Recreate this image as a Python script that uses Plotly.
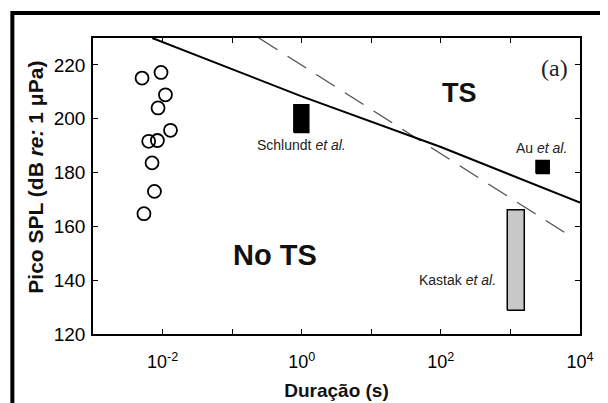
import numpy as np
import plotly.graph_objects as go

# ---- data ----
circle_dur = [0.00507, 0.0095, 0.0110, 0.00861, 0.0130, 0.00632, 0.00843, 0.00706, 0.00764, 0.0054]
circle_spl = [215.1, 217.2, 208.9, 204.0, 195.7, 191.6, 191.9, 183.6, 173.0, 164.7]

solid_dur = [0.0071, 1.0, 100.0, 10000.0]
solid_spl = [230.0, 208.3, 189.5, 168.8]

dashed_dur = [0.242, 6030.0]
dashed_spl = [230.0, 157.7]

schlundt_dur = [0.771, 1.265]
schlundt_spl = [194.9, 205.2]
au_dur = [2330.0, 3610.0]
au_spl = [179.6, 184.5]
kastak_dur = [900.0, 1581.0]
kastak_spl = [128.8, 166.2]

label_text = ["Schlundt <i>et al.</i>", "Au <i>et al.</i>", "Kastak <i>et al.</i>"]
label_dur = [1.0, 2810.0, 173.0]
label_spl = [190.4, 189.1, 139.9]

region_text = ["TS", "No TS"]
region_dur = [185.0, 0.414]
region_spl = [209.6, 149.5]
region_size = [27, 29]

x_tickvals = [1e-2, 1e-1, 1e0, 1e1, 1e2, 1e3, 1e4]
x_ticktext = ["10<sup>-2</sup>", "", "10<sup>0</sup>", "", "10<sup>2</sup>", "", "10<sup>4</sup>"]
y_tickvals = [120, 140, 160, 180, 200, 220]

x_title = "Duração (s)"
y_title = "Pico SPL (dB <i>re:</i> 1 μPa)"

FONT = "Liberation Sans, Arial, Helvetica, sans-serif"

fig = go.Figure()


def rect(xs, ys, fill):
    x0, x1 = xs
    y0, y1 = ys
    return go.Scatter(
        x=[x0, x1, x1, x0, x0], y=[y0, y0, y1, y1, y0],
        mode="lines", fill="toself", fillcolor=fill,
        line=dict(color="black", width=1.5), showlegend=False, hoverinfo="skip")


fig.add_trace(go.Scatter(x=dashed_dur, y=dashed_spl, mode="lines",
                         line=dict(color="#505050", width=1.3, dash="22px,12px"),
                         showlegend=False))
fig.add_trace(go.Scatter(x=solid_dur, y=solid_spl, mode="lines",
                         line=dict(color="black", width=2), showlegend=False))
fig.add_trace(go.Scatter(x=circle_dur, y=circle_spl, mode="markers",
                         marker=dict(symbol="circle-open", size=13,
                                     color="black", line=dict(width=1.8, color="black")),
                         showlegend=False))
fig.add_trace(rect(schlundt_dur, schlundt_spl, "black"))
fig.add_trace(rect(au_dur, au_spl, "black"))
fig.add_trace(rect(kastak_dur, kastak_spl, "#c8c8c8"))

annotations = []
for t, xd, yd in zip(label_text, label_dur, label_spl):
    annotations.append(dict(x=np.log10(xd), y=yd, xref="x", yref="y", text=t,
                            showarrow=False, font=dict(family=FONT, size=14, color="#222")))
for t, xd, yd, s in zip(region_text, region_dur, region_spl, region_size):
    annotations.append(dict(x=np.log10(xd), y=yd, xref="x", yref="y", text="<b>" + t + "</b>",
                            showarrow=False, font=dict(family=FONT, size=s, color="#111")))
annotations.append(dict(x=np.log10(4240.0), y=218.9, xref="x", yref="y", text="(a)",
                        showarrow=False,
                        font=dict(family="Liberation Serif, Times New Roman, serif", size=24, color="#222")))
# y axis title, placed as in the reference (slightly above the plot centre)
annotations.append(dict(x=-0.118, y=0.53, xref="paper", yref="paper", text="<b>" + y_title + "</b>",
                        textangle=-90, showarrow=False, xanchor="center", yanchor="middle",
                        font=dict(family=FONT, size=21, color="#111")))

# the page body adds an 8 px offset, so the figure is 8 px smaller on each axis
fig.update_layout(
    width=600, height=395, autosize=False,
    margin=dict(l=85, r=28, t=30, b=69, autoexpand=False),
    paper_bgcolor="white", plot_bgcolor="white",
    font=dict(family=FONT, color="black"),
    annotations=annotations,
    shapes=[dict(type="rect", xref="paper", yref="paper",
                 x0=-0.1656, x1=1.0514, y0=-0.26, y1=1.0844,
                 line=dict(color="black", width=4), fillcolor="rgba(0,0,0,0)", layer="above")],
)

fig.update_xaxes(type="log", range=[-3, 4], tickmode="array", tickvals=x_tickvals, ticktext=x_ticktext,
                 ticks="inside", ticklen=5, tickwidth=1, tickcolor="black",
                 showline=True, linecolor="black", linewidth=1.5, mirror="ticks",
                 showgrid=False, zeroline=False, ticklabelstandoff=11, automargin=False,
                 tickfont=dict(family=FONT, size=18, color="black"),
                 title=dict(text="<b>" + x_title + "</b>", font=dict(family=FONT, size=19, color="#111"),
                            standoff=12))
fig.update_yaxes(range=[120, 230], tickmode="array", tickvals=y_tickvals,
                 ticks="inside", ticklen=5, tickwidth=1, tickcolor="black",
                 showline=True, linecolor="black", linewidth=1.5, mirror="ticks",
                 showgrid=False, zeroline=False, ticklabelstandoff=2, automargin=False,
                 tickfont=dict(family=FONT, size=19, color="black"))

fig.write_html("out.html")
